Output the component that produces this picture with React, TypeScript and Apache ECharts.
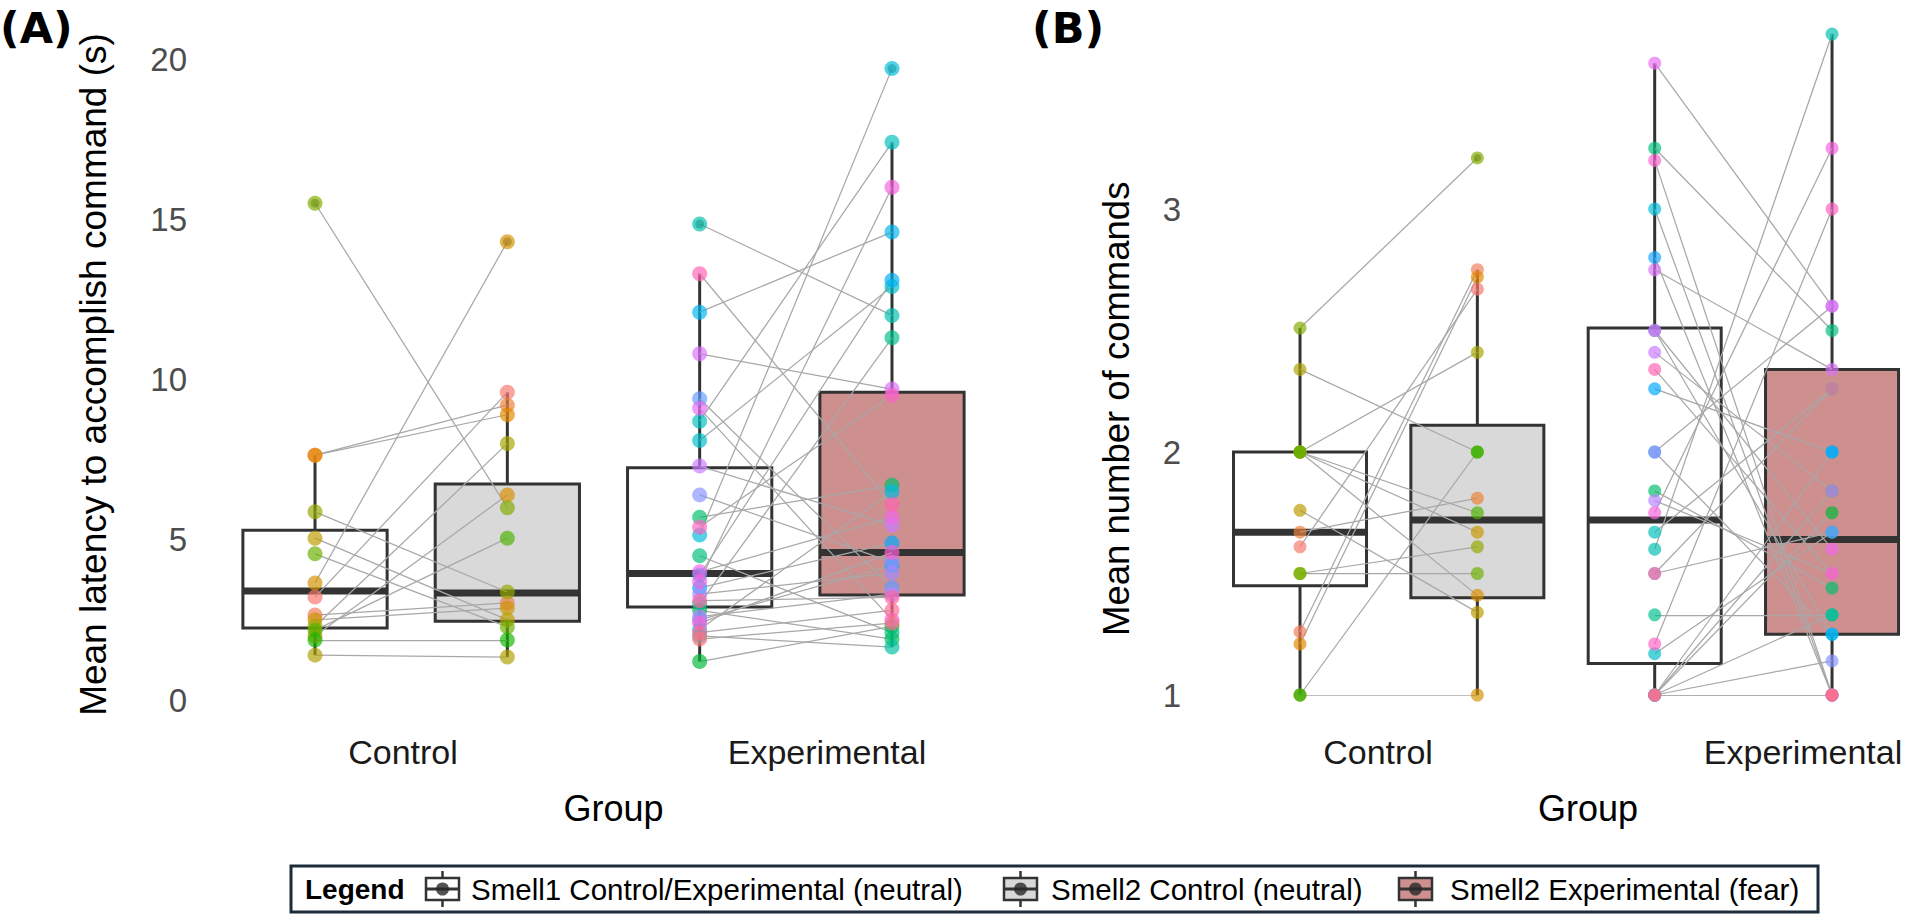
import React, { useEffect, useRef } from "react";
import * as echarts from "echarts";

// ---------- data ----------
// box positions on the value x-axis: Smell1 Control, Smell2 Control, Smell1 Exp, Smell2 Exp
const POS = [1, 2, 3, 4];
const GROUP_LABELS = ["Control", "Experimental"];

// Panel A — mean latency (s), one entry per subject (paired by index)
const A_CTRL_S1 = [3.21, 2.65, 7.64, 7.64, 2.0, 3.65, 2.5, 5.05, 1.4, 2.3, 5.87, 15.5, 4.56, 2.18, 1.87];
const A_CTRL_S2 = [9.6, 3.03, 9.2, 8.9, 6.4, 14.3, 2.87, 2.5, 1.34, 8.0, 3.37, 6.0, 2.28, 5.05, 1.87];
const A_EXP_S1 = [1.2, 2.8, 5.7, 4.5, 3.0, 2.0, 14.85, 8.7, 8.1, 5.15, 2.2, 12.1, 3.9, 3.5, 2.5, 9.4, 6.4, 3.3, 2.6, 7.3, 10.8, 9.1, 4.0, 3.7, 2.4, 5.4, 13.3, 3.1, 2.1, 1.9];
const A_EXP_S2 = [2.3, 1.9, 6.7, 2.1, 11.3, 1.65, 12.0, 17.4, 12.9, 19.7, 6.5, 14.6, 13.1, 4.9, 4.2, 3.5, 4.3, 3.96, 3.3, 5.45, 9.7, 2.5, 5.7, 16.0, 4.6, 9.5, 6.1, 3.2, 2.8, 2.4];
// box stats [lower whisker, Q1, median, Q3, upper whisker]
const A_BOXES = [
  [1.4, 2.25, 3.4, 5.3, 7.64],
  [1.34, 2.46, 3.34, 6.74, 9.6],
  [1.2, 2.9, 3.95, 7.25, 13.3],
  [1.65, 3.28, 4.6, 9.6, 17.4],
];
const A_OUTLIERS = [[1, 15.5], [2, 14.3], [3, 14.85], [4, 19.7]];
const A_TICKS = [0, 20, 5];

// Panel B — mean number of commands
const B_CTRL_S1 = [1.61, 1.26, 1.67, 1.21, 2.0, 1.0, 2.0, 1.76, 2.34, 2.0, 1.5, 2.51, 1.5, 2.0, 1.0];
const B_CTRL_S2 = [2.67, 2.75, 1.81, 2.72, 1.41, 1.0, 1.67, 1.34, 2.0, 2.41, 1.61, 3.21, 1.5, 1.75, 2.0];
const B_EXP_S1 = [1.0, 1.0, 1.84, 3.25, 1.33, 1.0, 1.6, 1.67, 1.17, 3.0, 2.0, 1.0, 2.5, 2.26, 2.8, 1.5, 1.0, 2.0, 1.8, 2.41, 2.75, 3.6, 2.5, 1.75, 3.2, 1.21, 2.34, 1.0, 1.5, 1.0];
const B_EXP_S2 = [1.75, 1.84, 1.44, 2.5, 1.33, 1.33, 3.72, 2.26, 1.67, 1.0, 1.25, 2.0, 1.25, 2.0, 1.0, 1.67, 1.14, 2.6, 1.5, 1.84, 2.34, 2.6, 1.6, 3.25, 1.0, 3.0, 1.5, 1.0, 2.26, 1.0];
const B_BOXES = [
  [1.0, 1.45, 1.67, 2.0, 2.51],
  [1.0, 1.4, 1.72, 2.11, 2.75],
  [1.0, 1.13, 1.72, 2.51, 3.6],
  [1.0, 1.25, 1.64, 2.34, 3.72],
];
const B_OUTLIERS = [[2, 3.21]];
const B_TICKS = [1, 3.8, 1];

const LEGEND_ITEMS = [
  "Smell1 Control/Experimental (neutral)",
  "Smell2 Control (neutral)",
  "Smell2 Experimental (fear)",
];

// ---------- styles ----------
const FONT = '"Liberation Sans", Arial, Helvetica, sans-serif';
const BOX_FILLS = ["#ffffff", "#d9d9d9", "#ffffff", "#ce8f8f"];
const LEGEND_FILLS = ["#ffffff", "#d9d9d9", "#ce8f8f"];
const N_SUBJ = 45;

function hcl2hex(h: number, c: number, l: number) {
  const hr = (h * Math.PI) / 180;
  const U = c * Math.cos(hr);
  const V = c * Math.sin(hr);
  const Xn = 0.95047, Yn = 1.0, Zn = 1.08883;
  const den = Xn + 15 * Yn + 3 * Zn;
  const un = (4 * Xn) / den, vn = (9 * Yn) / den;
  const Y = l > 8 ? Yn * Math.pow((l + 16) / 116, 3) : (Yn * l) / 903.3;
  const u = U / (13 * l) + un;
  const v = V / (13 * l) + vn;
  const X = (9 * Y * u) / (4 * v);
  const Z = (Y * (12 - 3 * u - 20 * v)) / (4 * v);
  const r = 3.2404542 * X - 1.5371385 * Y - 0.4985314 * Z;
  const g = -0.969266 * X + 1.8760108 * Y + 0.041556 * Z;
  const b = 0.0556434 * X - 0.2040259 * Y + 1.0572252 * Z;
  const gam = (t: number) => {
    const s = t <= 0.0031308 ? 12.92 * t : 1.055 * Math.pow(t, 1 / 2.4) - 0.055;
    return Math.round(Math.max(0, Math.min(1, s)) * 255);
  };
  return "#" + [r, g, b].map(gam).map((n) => n.toString(16).padStart(2, "0")).join("");
}
const hueColor = (i: number) => hcl2hex(15 + (360 / N_SUBJ) * i, 100, 65);

function boxRender(halfW: number) {
  return (params: any, api: any) => {
    const x = api.value(0);
    const lo = api.value(1), q1 = api.value(2), md = api.value(3), q3 = api.value(4), hi = api.value(5);
    const fill = BOX_FILLS[params.dataIndex];
    const pLo = api.coord([x, lo]);
    const pHi = api.coord([x, hi]);
    const pQ1 = api.coord([x, q1]);
    const pQ3 = api.coord([x, q3]);
    const pMd = api.coord([x, md]);
    const left = api.coord([x - halfW, q1])[0];
    const right = api.coord([x + halfW, q1])[0];
    const stroke = "#333333";
    return {
      type: "group",
      children: [
        { type: "line", shape: { x1: pLo[0], y1: pLo[1], x2: pQ1[0], y2: pQ1[1] }, style: { stroke, lineWidth: 3 } },
        { type: "line", shape: { x1: pQ3[0], y1: pQ3[1], x2: pHi[0], y2: pHi[1] }, style: { stroke, lineWidth: 3 } },
        { type: "rect", shape: { x: left, y: pQ3[1], width: right - left, height: pQ1[1] - pQ3[1] }, style: { fill, stroke, lineWidth: 3 } },
        { type: "line", shape: { x1: left, y1: pMd[1], x2: right, y2: pMd[1] }, style: { stroke, lineWidth: 7 } },
      ],
    };
  };
}

const pairs = (s1: number[], s2: number[], p1: number, p2: number) =>
  s1.map((v, i) => ({ coords: [[p1, v], [p2, s2[i]]] }));
const pts = (vals: number[], pos: number, off: number) =>
  vals.map((v, i) => ({ value: [pos, v], itemStyle: { color: hueColor(off + i) } }));

function panelSeries(idx: number, boxes: number[][], c1: number[], c2: number[], e1: number[], e2: number[], outl: number[][], size: number) {
  return [
    {
      type: "custom", xAxisIndex: idx, yAxisIndex: idx, z: 2, silent: true,
      renderItem: boxRender(0.375),
      encode: { x: 0, y: [1, 2, 3, 4, 5] },
      data: boxes.map((b, i) => [POS[i], ...b]),
    },
    {
      type: "lines", coordinateSystem: "cartesian2d", xAxisIndex: idx, yAxisIndex: idx, z: 3, silent: true,
      polyline: false,
      lineStyle: { color: "#a8a8a8", width: 1.25, opacity: 1, curveness: 0 },
      data: [...pairs(c1, c2, POS[0], POS[1]), ...pairs(e1, e2, POS[2], POS[3])],
    },
    {
      type: "scatter", xAxisIndex: idx, yAxisIndex: idx, z: 4, silent: true,
      symbolSize: size * 0.6,
      itemStyle: { color: "rgba(20,20,20,0.55)" },
      data: outl,
    },
    {
      type: "scatter", xAxisIndex: idx, yAxisIndex: idx, z: 5, silent: true,
      symbolSize: size,
      itemStyle: { opacity: 0.68 },
      data: [...pts(c1, POS[0], 0), ...pts(c2, POS[1], 0), ...pts(e1, POS[2], 15), ...pts(e2, POS[3], 15)],
    },
  ];
}

function legendGraphic() {
  const y0 = 866, h = 46, cy = y0 + h / 2;
  const iconX = [426, 1004, 1399];
  const textX = [471, 1051, 1450];
  const els: any[] = [
    { type: "rect", shape: { x: 291, y: y0, width: 1527, height: h }, style: { fill: "#ffffff", stroke: "#1c2b39", lineWidth: 3 } },
    { type: "text", x: 305, y: cy, style: { text: "Legend", fontFamily: FONT, fontWeight: "bold", fontSize: 28, fill: "#000", verticalAlign: "middle" } },
  ];
  LEGEND_ITEMS.forEach((t, i) => {
    const x = iconX[i], w = 33;
    els.push({
      type: "group",
      children: [
        { type: "line", shape: { x1: x + w / 2, y1: cy - 18, x2: x + w / 2, y2: cy + 18 }, style: { stroke: "#333", lineWidth: 2.5 } },
        { type: "rect", shape: { x, y: cy - 11, width: w, height: 22 }, style: { fill: LEGEND_FILLS[i], stroke: "#333", lineWidth: 2.5 } },
        { type: "line", shape: { x1: x, y1: cy, x2: x + w, y2: cy }, style: { stroke: "#333", lineWidth: 3 } },
        { type: "circle", shape: { cx: x + w / 2, cy, r: 6.5 }, style: { fill: "rgba(40,40,40,0.8)" } },
      ],
    });
    els.push({ type: "text", x: textX[i], y: cy, style: { text: t, fontFamily: FONT, fontSize: 29.5, fill: "#000", verticalAlign: "middle" } });
  });
  return els;
}

function buildOption() {
  const tickLabel = { fontFamily: FONT, fontSize: 33, color: "#4d4d4d", margin: 8 };
  const title = { fontFamily: FONT, fontSize: 36, color: "#000" };
  const xAxisBase = (gi: number, min: number, max: number, labelPos: number[], margin: number, gap: number, shift: number) => ({
    type: "value", gridIndex: gi, min, max,
    axisLine: { show: false }, axisTick: { show: false }, splitLine: { show: false },
    axisLabel: {
      customValues: labelPos, margin, fontFamily: FONT, fontSize: 34, color: "#1a1a1a",
      formatter: (v: number) => (v < 2.5 ? GROUP_LABELS[0] : GROUP_LABELS[1]),
    },
    name: "Group", nameLocation: "middle", nameGap: gap,
    nameTextStyle: { ...title, padding: [0, 0, 0, shift] },
  });
  return {
    animation: false,
    backgroundColor: "#ffffff",
    grid: [
      { left: 195, top: 59, width: 837, height: 641 },
      { left: 1189, top: 14.6, width: 720, height: 680.4 },
    ],
    xAxis: [
      xAxisBase(0, 0.376, 4.728, [1.4575, 3.662], 35, 90, 0),
      xAxisBase(1, 0.374, 4.434, [1.44, 3.8365], 40, 95, 78),
    ],
    yAxis: [
      {
        type: "value", gridIndex: 0, min: A_TICKS[0], max: A_TICKS[1], interval: A_TICKS[2],
        axisLine: { show: false }, axisTick: { show: false }, splitLine: { show: false },
        axisLabel: tickLabel,
        name: "Mean latency to accomplish command (s)", nameLocation: "middle", nameRotate: 90, nameGap: 83,
        nameTextStyle: { ...title, fontSize: 37, padding: [0, 0, 0, 10] },
      },
      {
        type: "value", gridIndex: 1, min: B_TICKS[0], max: B_TICKS[1], interval: B_TICKS[2],
        axisLine: { show: false }, axisTick: { show: false }, splitLine: { show: false },
        axisLabel: { ...tickLabel, showMaxLabel: false },
        name: "Mean number of commands", nameLocation: "middle", nameRotate: 90, nameGap: 54,
        nameTextStyle: { ...title, fontSize: 36.5, padding: [0, 108, 0, 0] },
      },
    ],
    graphic: [
      { type: "text", x: 0, y: 28, style: { text: "(A)", fontFamily: '"DejaVu Sans", sans-serif', fontWeight: "bold", fontSize: 43, fill: "#000", verticalAlign: "middle" } },
      { type: "text", x: 1032, y: 28, style: { text: "(B)", fontFamily: '"DejaVu Sans", sans-serif', fontWeight: "bold", fontSize: 43, fill: "#000", verticalAlign: "middle" } },
      ...legendGraphic(),
    ],
    series: [
      ...panelSeries(0, A_BOXES, A_CTRL_S1, A_CTRL_S2, A_EXP_S1, A_EXP_S2, A_OUTLIERS, 15),
      ...panelSeries(1, B_BOXES, B_CTRL_S1, B_CTRL_S2, B_EXP_S1, B_EXP_S2, B_OUTLIERS, 13),
    ],
  };
}

export default function App() {
  const ref = useRef<HTMLDivElement>(null);
  useEffect(() => {
    if (!ref.current) return;
    const chart = echarts.init(ref.current, null, { renderer: "svg" });
    chart.setOption(buildOption() as any);
    return () => chart.dispose();
  }, []);
  return (
    <div
      ref={ref}
      style={{ position: "fixed", left: 0, top: 0, width: 1909, height: 922, background: "#ffffff" }}
    />
  );
}
